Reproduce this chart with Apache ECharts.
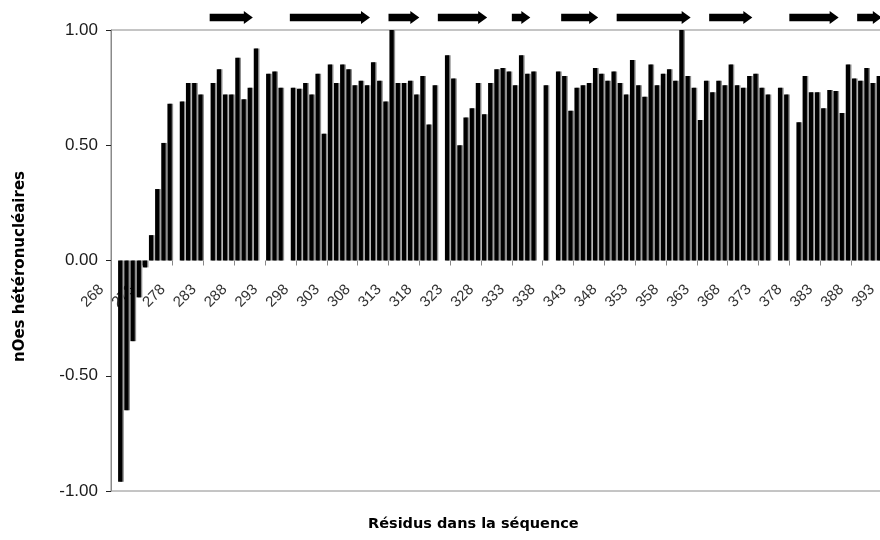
<!DOCTYPE html>
<html>
<head>
<meta charset="utf-8">
<title>nOes hétéronucléaires</title>
<script src="https://cdn.jsdelivr.net/npm/echarts@6/dist/echarts.min.js"></script>
<style>
    html, body { margin: 0; padding: 0; background: #fff; }
    #chart { width: 880px; height: 540px; }
</style>
</head>
<body>
<div id="chart"></div>
<script>
    'use strict';

    // 残基编号 268 - 393 (图右边被截断)
    var firstResidue = 268;
    var lastResidue = 393;
    var residues = [];
    for (var r = firstResidue; r <= lastResidue; r++) {
        residues.push(String(r));
    }

    // 异核 NOE, null = 无数据
    var noeValues = [
        null, -0.96, -0.65, -0.35, -0.16, -0.03, 0.11, 0.31, 0.51, 0.68,
        null, 0.69, 0.77, 0.77, 0.72, null, 0.77, 0.83, 0.72, 0.72,
        0.88, 0.70, 0.75, 0.92, null, 0.81, 0.82, 0.75, null, 0.75,
        0.745, 0.77, 0.72, 0.81, 0.55, 0.85, 0.77, 0.85, 0.83, 0.76,
        0.78, 0.76, 0.86, 0.78, 0.69, 1.00, 0.77, 0.77, 0.78, 0.72,
        0.80, 0.59, 0.76, null, 0.89, 0.79, 0.50, 0.62, 0.66, 0.77,
        0.635, 0.77, 0.83, 0.835, 0.82, 0.76, 0.89, 0.81, 0.82, null,
        0.76, null, 0.82, 0.80, 0.65, 0.75, 0.76, 0.77, 0.835, 0.81,
        0.78, 0.82, 0.77, 0.72, 0.87, 0.76, 0.71, 0.85, 0.76, 0.81,
        0.83, 0.78, 1.00, 0.80, 0.75, 0.61, 0.78, 0.73, 0.78, 0.76,
        0.85, 0.76, 0.75, 0.80, 0.81, 0.75, 0.72, null, 0.75, 0.72,
        null, 0.60, 0.80, 0.73, 0.73, 0.66, 0.74, 0.735, 0.64, 0.85,
        0.79, 0.78, 0.835, 0.77, 0.80, null
    ];

    // β 折叠区段 (起始残基 / 结束残基)
    var strandStarts = [284, 297, 313, 321, 333, 341, 350, 365, 378, 389];
    var strandEnds = [290, 309, 317, 328, 335, 346, 361, 371, 385, 392];

    var yMin = -1;
    var yMax = 1;
    var yStep = 0.5;

    var gridTop = 30;
    var gridBottom = 49;
    var plotHeight = 540 - gridTop - gridBottom;

    var strandData = strandStarts.map(function (s, i) {
        return [s - firstResidue, strandEnds[i] - firstResidue, yMax];
    });

    function renderStrand(params, api) {
        var band = api.size([1, 0])[0];
        var p0 = api.coord([api.value(0), yMax]);
        var p1 = api.coord([api.value(1), yMax]);
        var x0 = p0[0] - band / 2;
        var x1 = p1[0] + band / 2;
        var yc = p0[1] - 12.5;
        var shaft = 3.7, head = 6.5, headLen = 9;
        return {
            type: 'polygon',
            shape: {
                points: [
                    [x0, yc - shaft], [x1 - headLen, yc - shaft], [x1 - headLen, yc - head],
                    [x1, yc], [x1 - headLen, yc + head], [x1 - headLen, yc + shaft],
                    [x0, yc + shaft]
                ]
            },
            style: {fill: '#000'}
        };
    }

    var chart = echarts.init(document.getElementById('chart'));

    chart.setOption({
        backgroundColor: '#fff',
        animation: false,
        title: {
            text: 'Résidus dans la séquence',
            left: 368,
            top: 517,
            padding: 0,
            textStyle: {
                fontFamily: 'DejaVu Sans',
                fontWeight: 'bold',
                fontSize: 14.5,
                color: '#000'
            }
        },
        grid: {
            left: 111,
            top: gridTop,
            bottom: gridBottom,
            right: -8,
            show: true,
            borderColor: '#8a8a8a',
            borderWidth: 1,
            containLabel: false,
            outerBoundsMode: 'none'
        },
        xAxis: {
            type: 'category',
            data: residues,
            position: 'bottom',
            // 把轴移到 y = 0 处 (轴线不画)
            offset: -plotHeight * (0 - yMin) / (yMax - yMin),
            axisLine: {show: false, onZero: false},
            axisTick: {
                show: true,
                interval: 4,
                length: 5,
                lineStyle: {color: '#888'}
            },
            axisLabel: {
                interval: 4,
                rotate: 45,
                margin: 14,
                padding: [0, 18, 0, 0],
                fontFamily: 'Liberation Sans',
                fontSize: 15,
                color: '#333'
            },
            splitLine: {show: false}
        },
        yAxis: {
            type: 'value',
            min: yMin,
            max: yMax,
            interval: yStep,
            name: 'nOes hétéronucléaires',
            nameLocation: 'middle',
            nameRotate: 90,
            nameGap: 83,
            nameTextStyle: {
                fontFamily: 'DejaVu Sans',
                fontWeight: 'bold',
                fontSize: 15,
                color: '#000',
                padding: [0, 12, 0, 0]
            },
            axisLine: {show: true, lineStyle: {color: '#8a8a8a'}},
            axisTick: {show: true, length: 5, lineStyle: {color: '#222'}},
            axisLabel: {
                margin: 13,
                fontFamily: 'Liberation Sans',
                fontSize: 17,
                color: '#1a1a1a',
                formatter: function (v) {
                    return v.toFixed(2);
                }
            },
            splitLine: {show: false}
        },
        series: [
            {
                type: 'bar',
                data: noeValues,
                barWidth: '70%',
                itemStyle: {
                    color: '#000',
                    shadowColor: '#8c8c8c',
                    shadowOffsetX: 1.4,
                    shadowOffsetY: 0,
                    shadowBlur: 0
                }
            },
            {
                type: 'custom',
                renderItem: renderStrand,
                data: strandData,
                encode: {x: [0, 1], y: 2},
                clip: false,
                z: 5
            }
        ]
    });
</script>
</body>
</html>
